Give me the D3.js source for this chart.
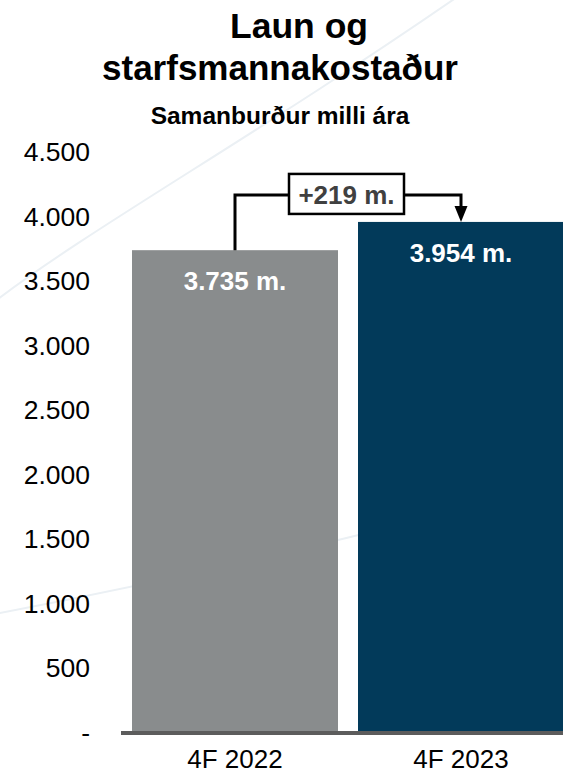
<!DOCTYPE html>
<html><head><meta charset="utf-8">
<script src="https://cdn.jsdelivr.net/npm/d3@7"></script>
<style>
body{margin:0;background:#fff}
svg{display:block}
text{font-family:"Liberation Sans",Arial,Helvetica,sans-serif}
</style>
</head><body>
<svg id="chart" width="563" height="776"></svg>
<script>
// ---- data ----
const categories = ["4F 2022", "4F 2023"];
const values = [3735, 3954];
const valueLabels = ["3.735 m.", "3.954 m."];
const barColors = ["#898c8d", "#023a5a"];
const tickValues = [0, 500, 1000, 1500, 2000, 2500, 3000, 3500, 4000, 4500];
const tickLabels = ["-", "500", "1.000", "1.500", "2.000", "2.500", "3.000", "3.500", "4.000", "4.500"];
const diffLabel = "+219 m.";
const titleLines = ["Laun og", "starfsmannakostaður"];
const subtitle = "Samanburður milli ára";

// ---- setup ----
const svg = d3.select("#chart");
const W = 563, H = 776;

// faint decorative background swooshes
const deco = svg.append("g").attr("fill", "none").attr("stroke", "#ebf0f4").attr("stroke-width", 2);
deco.append("path").attr("d", "M-10,305 C90,228 250,140 460,-5");
deco.append("path").attr("d", "M-10,615 C120,590 260,560 420,520");

const y = d3.scaleLinear().domain([0, 4500]).range([732, 151.5]);
const x = d3.scaleBand().domain(categories).range([132, 564]).paddingInner(20 / 226).paddingOuter(0);

// title
const title = svg.append("g").attr("text-anchor", "middle").attr("font-weight", "bold").attr("fill", "#000");
title.append("text").attr("x", 299).attr("y", 38).attr("font-size", 35.5).text(titleLines[0]);
title.append("text").attr("x", 280).attr("y", 80).attr("font-size", 35).text(titleLines[1]);
title.append("text").attr("x", 280).attr("y", 124).attr("font-size", 24.5).text(subtitle);

// bars
svg.append("g").selectAll("rect").data(values).join("rect")
  .attr("x", (d, i) => x(categories[i]))
  .attr("y", d => y(d))
  .attr("width", x.bandwidth())
  .attr("height", d => y(0) - y(d))
  .attr("fill", (d, i) => barColors[i]);

// value labels
svg.append("g").selectAll("text").data(values).join("text")
  .attr("x", (d, i) => x(categories[i]) + x.bandwidth() / 2)
  .attr("y", d => y(d) + 40)
  .attr("text-anchor", "middle")
  .attr("font-weight", "bold")
  .attr("font-size", 26)
  .attr("fill", "#fff")
  .text((d, i) => valueLabels[i]);

// y axis
const yAxis = svg.append("g").attr("transform", "translate(90,0)")
  .call(d3.axisLeft(y).tickValues(tickValues).tickFormat((d, i) => tickLabels[i]).tickSize(0).tickPadding(0));
yAxis.select(".domain").remove();
yAxis.selectAll("text").attr("font-size", 26.5).attr("fill", "#000").attr("font-family", '"Liberation Sans",Arial,sans-serif').attr("dy", "0.34em");

// baseline
svg.append("line").attr("x1", 121).attr("x2", W).attr("y1", y(0) + 1).attr("y2", y(0) + 1)
  .attr("stroke", "#5c5c5c").attr("stroke-width", 4);

// x labels
svg.append("g").selectAll("text").data(categories).join("text")
  .attr("x", d => x(d) + x.bandwidth() / 2)
  .attr("y", 768)
  .attr("text-anchor", "middle")
  .attr("font-size", 26)
  .attr("fill", "#000")
  .text(d => d);

// connector with difference
const cx0 = x(categories[0]) + x.bandwidth() / 2;
const cx1 = x(categories[1]) + x.bandwidth() / 2;
const levelY = y(d3.max(values)) - 27;
const boxW = 115, boxH = 40;
const boxCx = (x(categories[0]) + x.bandwidth() + x(categories[1])) / 2 - 1.5;
const conn = svg.append("g");
conn.append("path")
  .attr("d", `M${cx0},${y(values[0])} V${levelY} H${cx1} V${y(values[1]) - 14}`)
  .attr("fill", "none").attr("stroke", "#000").attr("stroke-width", 3);
conn.append("path")
  .attr("d", `M${cx1 - 6.5},${y(values[1]) - 16} L${cx1 + 6.5},${y(values[1]) - 16} L${cx1},${y(values[1])} Z`)
  .attr("fill", "#000");
conn.append("rect")
  .attr("x", boxCx - boxW / 2).attr("y", levelY - boxH / 2 - 1)
  .attr("width", boxW).attr("height", boxH)
  .attr("fill", "#fff").attr("stroke", "#000").attr("stroke-width", 2.5);
conn.append("text")
  .attr("x", boxCx).attr("y", levelY + 9)
  .attr("text-anchor", "middle").attr("font-weight", "bold").attr("font-size", 26)
  .attr("fill", "#404040")
  .text(diffLabel);
</script>
</body></html>
